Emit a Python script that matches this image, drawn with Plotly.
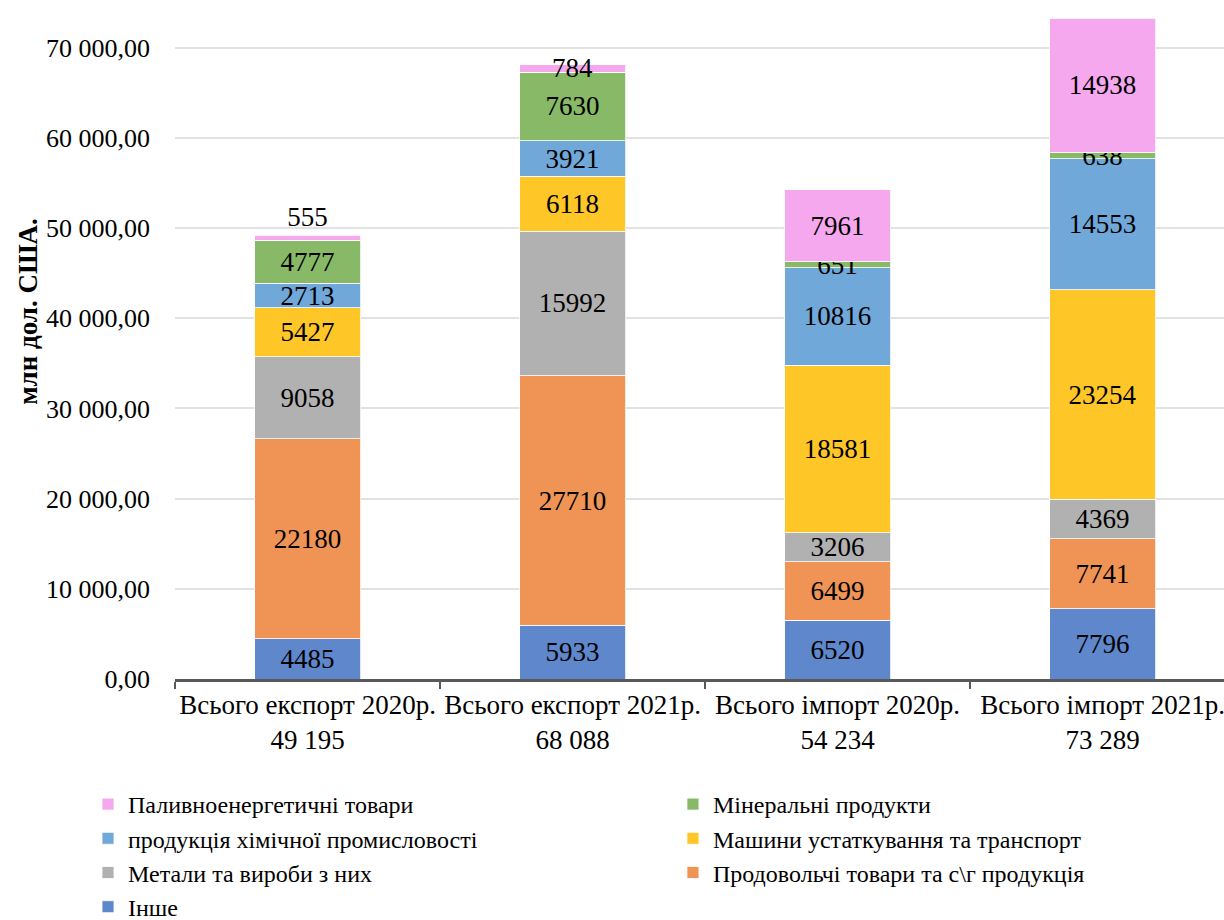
import plotly.graph_objects as go

# Categories (x axis) and series, bottom to top of the stack
categories = [
    "Всього експорт 2020р.<br>49 195",
    "Всього експорт 2021р.<br>68 088",
    "Всього імпорт 2020р.<br>54 234",
    "Всього імпорт 2021р.<br>73 289",
]

inshe = [4485, 5933, 6520, 7796]
prodovolchi = [22180, 27710, 6499, 7741]
metaly = [9058, 15992, 3206, 4369]
mashyny = [5427, 6118, 18581, 23254]
khimiya = [2713, 3921, 10816, 14553]
mineralni = [4777, 7630, 651, 638]
palyvo = [555, 784, 7961, 14938]

# name, values, colour, legend column
series = [
    ("Інше", inshe, "#5F87CB", "legend"),
    ("Продовольчі товари та с\\г продукція", prodovolchi, "#EF9455", "legend2"),
    ("Метали та вироби з них", metaly, "#B1B1B1", "legend"),
    ("Машини устаткування та транспорт", mashyny, "#FFC628", "legend2"),
    ("продукція хімічної промисловості", khimiya, "#70A8DA", "legend"),
    ("Мінеральні продукти", mineralni, "#87B966", "legend2"),
    ("Паливноенергетичні товари", palyvo, "#F6A8EF", "legend"),
]

y_ticks = [0, 10000, 20000, 30000, 40000, 50000, 60000, 70000]
y_ticktext = ["0,00", "10 000,00", "20 000,00", "30 000,00",
              "40 000,00", "50 000,00", "60 000,00", "70 000,00"]

FONT = "Liberation Serif"

fig = go.Figure()
for name, vals, color, leg in series:
    # the small 555 label sits just above its bar, as in the original
    if vals is palyvo:
        pos = ["outside", "inside", "inside", "inside"]
    else:
        pos = "inside"
    fig.add_trace(go.Bar(
        x=categories,
        y=vals,
        name=name,
        legend=leg,
        width=0.40,
        marker=dict(color=color, line=dict(color="rgba(255,255,255,0.8)", width=1)),
        text=[str(v) for v in vals],
        textposition=pos,
        insidetextanchor="middle",
        textangle=0,
        constraintext="none",
        cliponaxis=False,
        textfont=dict(family=FONT, size=27, color="black"),
    ))

# horizontal legends with a wide entry width -> one item per row,
# two of them side by side give the two columns of the original
legend_style = dict(
    orientation="h",
    traceorder="reversed",
    xref="container", yref="container",
    xanchor="left", yanchor="top",
    font=dict(family=FONT, size=24, color="black"),
    entrywidth=620,
    entrywidthmode="pixels",
    bgcolor="rgba(0,0,0,0)",
)

fig.update_layout(
    barmode="stack",
    width=1224,
    height=920,
    margin=dict(l=175, r=0, t=10, b=241),
    plot_bgcolor="white",
    paper_bgcolor="white",
    font=dict(family=FONT, size=26, color="black"),
    uniformtext=dict(minsize=27, mode="show"),
    showlegend=True,
    legend=dict(legend_style, x=0.0719, y=0.150),
    legend2=dict(legend_style, x=0.5498, y=0.150),
)

fig.update_xaxes(
    range=[-0.5, 3.458],
    automargin=False,
    tickangle=0,
    showline=True,
    linecolor="#595959",
    linewidth=2.5,
    ticks="outside",
    tickson="boundaries",
    ticklen=7,
    tickwidth=2,
    tickcolor="#595959",
    showgrid=False,
    tickfont=dict(family=FONT, size=27, color="black"),
)

fig.update_yaxes(
    range=[0, 74180],
    automargin=False,
    tickvals=y_ticks,
    ticktext=y_ticktext,
    showgrid=True,
    gridcolor="#E2E2E2",
    gridwidth=1.5,
    zeroline=False,
    ticks="",
    ticklabelstandoff=24,
    tickfont=dict(family=FONT, size=26, color="black"),
)

fig.add_annotation(
    text="<b>млн дол. США.</b>",
    xref="paper", yref="paper",
    x=-0.14, y=0.549,
    xanchor="center", yanchor="middle",
    textangle=-90,
    showarrow=False,
    font=dict(family=FONT, size=27, color="black"),
)

# drop the default page margin so the figure fills the window exactly
fig.write_html(
    "out.html",
    config={"displayModeBar": False},
    post_script="document.body.style.margin='0';document.body.style.overflow='hidden';",
)
